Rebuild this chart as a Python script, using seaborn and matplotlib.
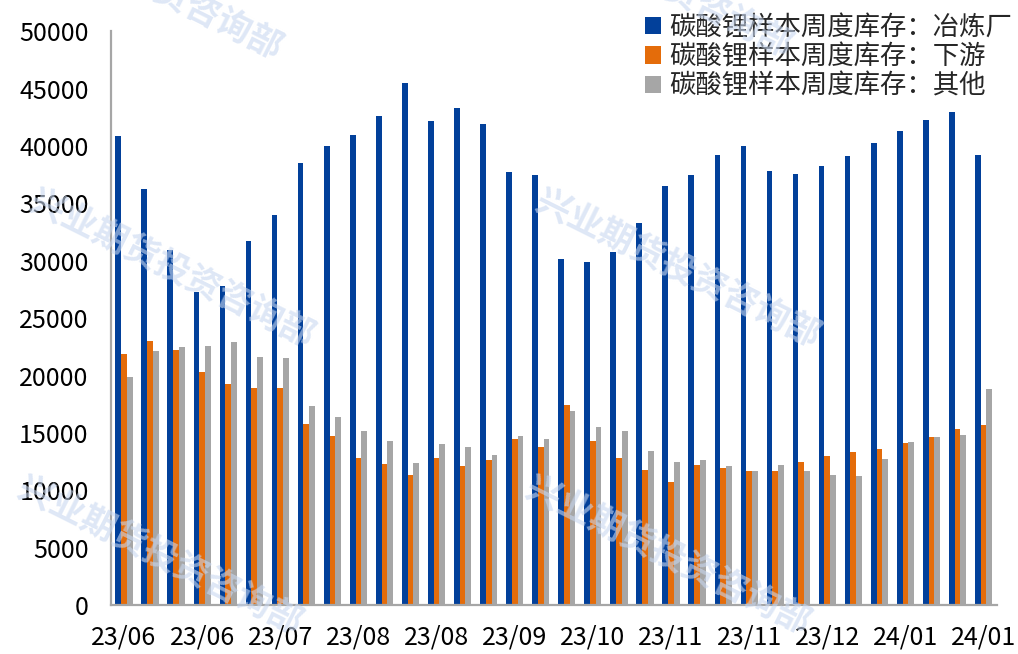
import matplotlib
matplotlib.use("Agg")
import matplotlib.pyplot as plt
import seaborn as sns
import pandas as pd
import numpy as np

# Weekly lithium carbonate sample inventory (tonnes)
smelter = [40900, 36300, 30900, 27300, 27800, 31700, 34000, 38500, 40000, 41000,
           42600, 45500, 42200, 43300, 41900, 37700, 37500, 30200, 29900, 30800,
           33300, 36500, 37500, 39200, 40000, 37850, 37600, 38250, 39150, 40300,
           41350, 42300, 43000, 39200]
downstream = [21900, 23050, 22200, 20300, 19300, 18950, 18900, 15800, 14700, 12850,
              12250, 11300, 12800, 12100, 12600, 14500, 13750, 17450, 14300, 12850,
              11750, 10700, 12200, 11900, 11650, 11700, 12500, 12950, 13300, 13600,
              14100, 14600, 15300, 15700]
others = [19900, 22100, 22450, 22600, 22950, 21650, 21550, 17300, 16350, 15200,
          14250, 12350, 14050, 13750, 13100, 14700, 14500, 16900, 15500, 15200,
          13450, 12500, 12600, 12150, 11700, 12200, 11650, 11300, 11200, 12700,
          14200, 14600, 14800, 18850]

series_names = ["碳酸锂样本周度库存：冶炼厂", "碳酸锂样本周度库存：下游", "碳酸锂样本周度库存：其他"]
tick_labels = ["23/06", "23/06", "23/07", "23/08", "23/08", "23/09",
               "23/10", "23/11", "23/11", "23/12", "24/01", "24/01"]
tick_step = 3

weeks = list(range(len(smelter)))
df = pd.DataFrame({
    "week": weeks * 3,
    "value": smelter + downstream + others,
    "series": [series_names[0]] * len(weeks) + [series_names[1]] * len(weeks)
              + [series_names[2]] * len(weeks),
})

sns.set_theme(style="white")
plt.rcParams["font.family"] = ["Noto Sans CJK SC", "DejaVu Sans"]

fig = plt.figure(figsize=(10.18, 6.54), dpi=100)
ax = fig.add_axes([0.109, 0.075, 0.870, 0.877])

palette = ["#02409A", "#E46C0A", "#A6A6A6"]
sns.barplot(data=df, x="week", y="value", hue="series", hue_order=series_names,
            palette=palette, width=0.66, dodge=True, gap=0, saturation=1,
            edgecolor="none", ax=ax)

ax.set_xlim(-0.5, len(weeks) - 0.5)
ax.set_ylim(0, 50000)
ax.set_yticks(np.arange(0, 50001, 5000))
ax.set_yticklabels([str(v) for v in range(0, 50001, 5000)])
ax.set_xticks(weeks[::tick_step])
ax.set_xticklabels(tick_labels)
ax.tick_params(axis="both", length=0, labelsize=18, colors="black")
ax.tick_params(axis="y", pad=16)
ax.tick_params(axis="x", pad=14)
ax.set_xlabel("")
ax.set_ylabel("")
for side in ["top", "right"]:
    ax.spines[side].set_visible(False)
for side in ["left", "bottom"]:
    ax.spines[side].set_color("#A6A6A6")
    ax.spines[side].set_linewidth(1.6)

leg = ax.legend(loc="upper right", bbox_to_anchor=(1.017, 1.03), frameon=False,
                fontsize=19, handlelength=0.62, handleheight=0.62,
                handletextpad=0.3, labelspacing=0.08, borderaxespad=0,
                borderpad=0)

# Company watermark
wm_text = "兴业期货投资咨询部"
for cx, cy in [(172, 268), (678, 268), (160, 555), (668, 555), (140, -20), (650, -22)]:
    fig.text(cx / 1018, 1 - cy / 654, wm_text, rotation=-26.5, fontsize=25,
             fontweight="bold", color="#C9D8F0", alpha=0.6,
             ha="center", va="center", zorder=10)

fig.savefig("out.png", dpi=100)
